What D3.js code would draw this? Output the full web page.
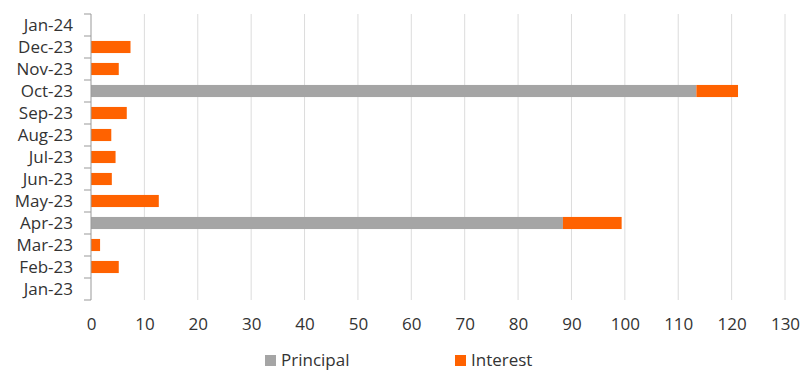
<!DOCTYPE html>
<html>
<head>
<meta charset="utf-8">
<script src="https://cdn.jsdelivr.net/npm/d3@7"></script>
<style>
  html, body { margin: 0; padding: 0; background: #fff; }
  svg { display: block; }
  text { font-family: "Open Sans", "Noto Sans", sans-serif; fill: #333; }
</style>
</head>
<body>
<svg id="chart" width="803" height="371"></svg>
<script>
// Monthly payments, top to bottom
const months = ["Jan-24", "Dec-23", "Nov-23", "Oct-23", "Sep-23", "Aug-23", "Jul-23",
                "Jun-23", "May-23", "Apr-23", "Mar-23", "Feb-23", "Jan-23"];
const principal = [0, 0, 0, 113.4, 0, 0, 0, 0, 0, 88.4, 0, 0, 0];
const interest  = [0, 7.4, 5.2, 7.8, 6.7, 3.8, 4.6, 3.9, 12.7, 11.0, 1.7, 5.2, 0];
const xTicks = [0, 10, 20, 30, 40, 50, 60, 70, 80, 90, 100, 110, 120, 130];
const seriesNames = ["Principal", "Interest"];
const seriesColors = ["#a5a5a5", "#ff6200"];

const svg = d3.select("#chart");
const margin = { left: 91, right: 18, top: 14, bottom: 71 };
const W = 803, H = 371;
const fontSize = 17;

const x = d3.scaleLinear().domain([0, 130]).range([margin.left, W - margin.right]);
const y = d3.scaleBand().domain(months).range([margin.top, H - margin.bottom]).paddingInner(0.45).paddingOuter(0.225);
const yEdges = d3.scaleBand().domain(months).range([margin.top, H - margin.bottom]);

// Vertical gridlines
svg.append("g")
  .selectAll("line")
  .data(xTicks.slice(1))
  .join("line")
  .attr("x1", d => x(d)).attr("x2", d => x(d))
  .attr("y1", margin.top).attr("y2", H - margin.bottom)
  .attr("stroke", "#dcdcdc").attr("stroke-width", 1);

// Stacked bars
const rows = months.map((m, i) => ({ month: m, Principal: principal[i], Interest: interest[i] }));
const stack = d3.stack().keys(seriesNames)(rows);
svg.append("g")
  .selectAll("g")
  .data(stack)
  .join("g")
  .attr("fill", (d, i) => seriesColors[i])
  .selectAll("rect")
  .data(d => d)
  .join("rect")
  .attr("x", d => x(d[0]))
  .attr("width", d => Math.max(0, x(d[1]) - x(d[0])))
  .attr("y", d => y(d.data.month))
  .attr("height", y.bandwidth());

// Category axis with ticks at band boundaries
const yAxisG = svg.append("g");
yAxisG.append("line")
  .attr("x1", margin.left).attr("x2", margin.left)
  .attr("y1", margin.top).attr("y2", H - margin.bottom)
  .attr("stroke", "#999").attr("stroke-width", 1);
const edges = months.map(m => yEdges(m)).concat([H - margin.bottom]);
yAxisG.selectAll("line.tick")
  .data(edges)
  .join("line")
  .attr("class", "tick")
  .attr("x1", margin.left - 7).attr("x2", margin.left)
  .attr("y1", d => d).attr("y2", d => d)
  .attr("stroke", "#999").attr("stroke-width", 1);
yAxisG.selectAll("text")
  .data(months)
  .join("text")
  .attr("x", margin.left - 18)
  .attr("y", d => yEdges(d) + yEdges.bandwidth() / 2)
  .attr("dy", "0.35em")
  .attr("text-anchor", "end")
  .attr("font-size", fontSize)
  .text(d => d);

// Value axis labels
const xAxis = d3.axisBottom(x).tickValues(xTicks).tickSize(0).tickPadding(0);
const xAxisG = svg.append("g")
  .attr("transform", `translate(0,${H - margin.bottom})`)
  .call(xAxis);
xAxisG.select(".domain").remove();
xAxisG.selectAll("text")
  .attr("y", 24)
  .attr("dy", "0.35em")
  .attr("font-size", fontSize)
  .attr("font-family", "\"Open Sans\", \"Noto Sans\", sans-serif")
  .attr("fill", "#333");

// Legend
const legendX = [265, 455];
const legend = svg.append("g")
  .selectAll("g")
  .data(seriesNames)
  .join("g")
  .attr("transform", (d, i) => `translate(${legendX[i]},355)`);
legend.append("rect")
  .attr("width", 11).attr("height", 11)
  .attr("fill", (d, i) => seriesColors[i]);
legend.append("text")
  .attr("x", 16).attr("y", 5).attr("dy", "0.35em")
  .attr("font-size", fontSize)
  .text(d => d);
</script>
</body>
</html>
